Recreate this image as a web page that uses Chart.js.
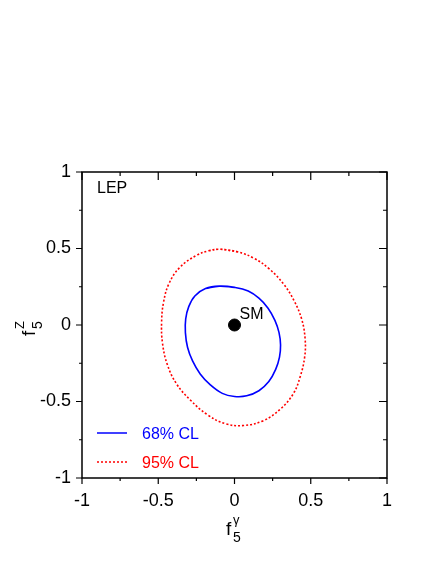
<!DOCTYPE html>
<html>
<head>
<meta charset="utf-8">
<script src="https://cdn.jsdelivr.net/npm/chart.js@4.4.1/dist/chart.umd.min.js"></script>
<style>
html,body{margin:0;padding:0;background:#fff;}
#wrap{width:440px;height:570px;}
</style>
</head>
<body>
<div id="wrap"><canvas id="c" width="440" height="570"></canvas></div>
<script>
// ---- data ----
const cl68X = [-0.10,0.00,0.09,0.16,0.22,0.265,0.292,0.302,0.295,0.27,0.225,0.16,0.08,0.00,-0.08,-0.16,-0.225,-0.275,-0.308,-0.322,-0.32,-0.30,-0.26,-0.19];
const cl68Y = [0.254,0.246,0.222,0.175,0.11,0.03,-0.05,-0.13,-0.21,-0.29,-0.37,-0.43,-0.463,-0.467,-0.447,-0.39,-0.32,-0.235,-0.145,-0.05,0.04,0.12,0.19,0.238];
const cl95X = [-0.10,0.02,0.13,0.23,0.32,0.39,0.44,0.463,0.46,0.43,0.385,0.30,0.19,0.06,-0.06,-0.18,-0.29,-0.38,-0.44,-0.472,-0.478,-0.465,-0.43,-0.36,-0.25,-0.17];
const cl95Y = [0.495,0.478,0.435,0.365,0.27,0.16,0.04,-0.09,-0.21,-0.34,-0.45,-0.55,-0.625,-0.657,-0.645,-0.585,-0.49,-0.385,-0.26,-0.12,0.02,0.15,0.27,0.375,0.455,0.485];
const smX = [0];
const smY = [0];
const seriesLabels = ['68% CL', '95% CL'];
const pointLabel = 'SM';
const panelLabel = 'LEP';
const axisMin = -1, axisMax = 1, tickStep = 0.25, labelStep = 0.5;

// closed contour: wrap around one point on each side so the spline is smooth at the seam
function closedPts(xs, ys) {
  const n = xs.length;
  const pts = xs.map((x, i) => ({x: x, y: ys[i]}));
  return [pts[n - 1]].concat(pts, [pts[0], pts[1]]);
}
const toPts = (xs, ys) => xs.map((x, i) => ({x: x, y: ys[i]}));
const FONT = '"Liberation Sans", Arial, Helvetica, sans-serif';
const BLUE = '#0000ff', RED = '#ff0000';

function tickVals() {
  const out = [];
  for (let v = axisMin; v <= axisMax + 1e-9; v += tickStep) out.push(Math.round(v * 100) / 100);
  return out;
}
const isMajor = v => Math.abs(v / labelStep - Math.round(v / labelStep)) < 1e-6;

const framePlugin = {
  id: 'frame',
  afterDraw(chart) {
    const ctx = chart.ctx, a = chart.chartArea;
    const xs = chart.scales.x, ys = chart.scales.y;
    ctx.save();
    ctx.strokeStyle = '#000';
    ctx.lineWidth = 1.5;
    ctx.strokeRect(a.left, a.top, a.right - a.left, a.bottom - a.top);
    ctx.lineWidth = 1.2;
    ctx.beginPath();
    tickVals().forEach(v => {
      const M = isMajor(v);
      const px = xs.getPixelForValue(v), py = ys.getPixelForValue(v);
      ctx.moveTo(px, a.bottom); ctx.lineTo(px, a.bottom + (M ? 6 : 3));
      ctx.moveTo(px, a.top); ctx.lineTo(px, a.top + (M ? 8 : 4));
      ctx.moveTo(a.left, py); ctx.lineTo(a.left - (M ? 6 : 3), py);
      ctx.moveTo(a.right, py); ctx.lineTo(a.right - (M ? 8 : 4), py);
    });
    ctx.stroke();

    ctx.fillStyle = '#000';
    ctx.font = '16px ' + FONT;
    ctx.textAlign = 'left';
    ctx.textBaseline = 'alphabetic';
    ctx.fillText(panelLabel, a.left + 15, a.top + 21);

    const sx = xs.getPixelForValue(smX[0]), sy = ys.getPixelForValue(smY[0]);
    ctx.fillText(pointLabel, sx + 5, sy - 6);

    const lx = a.left + 15;
    const ly = [a.bottom - 45, a.bottom - 16];
    const cols = [BLUE, RED];
    const dashes = [[], [2, 2]];
    for (let i = 0; i < 2; i++) {
      ctx.strokeStyle = cols[i];
      ctx.lineWidth = 1.5;
      ctx.setLineDash(dashes[i]);
      ctx.beginPath();
      ctx.moveTo(lx, ly[i]); ctx.lineTo(lx + 30, ly[i]);
      ctx.stroke();
      ctx.setLineDash([]);
      ctx.fillStyle = cols[i];
      ctx.fillText(seriesLabels[i], lx + 45, ly[i] + 6);
    }

    ctx.fillStyle = '#000';
    ctx.font = '19px ' + FONT;
    ctx.fillText('f', 226, 535);
    ctx.font = '14px ' + FONT;
    ctx.fillText('5', 233, 542);
    ctx.font = '13px ' + FONT;
    ctx.fillText('\u03b3', 233, 524);

    ctx.translate(35, 336);
    ctx.rotate(-Math.PI / 2);
    ctx.font = '19px ' + FONT;
    ctx.fillText('f', 0, 0);
    ctx.font = '14px ' + FONT;
    ctx.fillText('5', 7, 7);
    ctx.font = '13px ' + FONT;
    ctx.fillText('Z', 7, -11);
    ctx.restore();
  }
};

const tickFont = {family: FONT, size: 18};
const labelCb = v => isMajor(v) ? String(Math.round(v * 100) / 100) : '';

new Chart(document.getElementById('c'), {
  type: 'scatter',
  data: {
    datasets: [
      {label: seriesLabels[0], data: closedPts(cl68X, cl68Y), showLine: true, borderColor: BLUE, borderWidth: 1.6, pointRadius: 0, tension: 0.4, fill: false},
      {label: seriesLabels[1], data: closedPts(cl95X, cl95Y), showLine: true, borderColor: RED, borderWidth: 1.6, borderDash: [2, 2], pointRadius: 0, tension: 0.4, fill: false},
      {label: pointLabel, data: toPts(smX, smY), pointRadius: 6, backgroundColor: '#000', borderColor: '#000', pointHoverRadius: 6}
    ]
  },
  options: {
    responsive: false,
    animation: false,
    events: [],
    layout: {padding: 0},
    plugins: {legend: {display: false}, tooltip: {enabled: false}},
    scales: {
      x: {
        type: 'linear', position: 'bottom', min: axisMin, max: axisMax,
        ticks: {stepSize: tickStep, callback: labelCb, font: tickFont, color: '#000', padding: 6, maxRotation: 0, autoSkip: false},
        grid: {display: true, drawOnChartArea: false, tickLength: 6, tickColor: 'rgba(0,0,0,0)'},
        border: {display: false},
        afterFit: s => { s.height = 92; }
      },
      y: {
        type: 'linear', position: 'left', min: axisMin, max: axisMax,
        ticks: {stepSize: tickStep, callback: labelCb, font: tickFont, color: '#000', padding: 5, autoSkip: false},
        grid: {display: true, drawOnChartArea: false, tickLength: 6, tickColor: 'rgba(0,0,0,0)'},
        border: {display: false},
        afterFit: s => { s.width = 82; }
      },
      x2: {
        type: 'linear', position: 'top', min: axisMin, max: axisMax,
        ticks: {display: false}, grid: {display: false}, border: {display: false},
        afterFit: s => { s.height = 172; }
      },
      y2: {
        type: 'linear', position: 'right', min: axisMin, max: axisMax,
        ticks: {display: false}, grid: {display: false}, border: {display: false},
        afterFit: s => { s.width = 53; }
      }
    }
  },
  plugins: [framePlugin]
});
</script>
</body>
</html>
